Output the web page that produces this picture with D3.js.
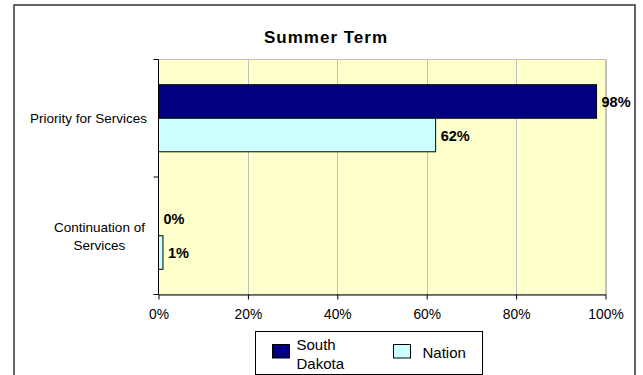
<!DOCTYPE html>
<html><head><meta charset="utf-8">
<script src="https://cdn.jsdelivr.net/npm/d3@7"></script>
<style>body{margin:0;background:#fff;}svg{display:block;font-family:"Liberation Sans",Arial,sans-serif;}</style>
</head><body>
<svg id="c" width="643" height="375"></svg>
<script>
const categories = ["Priority for Services", "Continuation of Services"];
const categoryLines = [["Priority for Services"], ["Continuation of", "Services"]];
const seriesNames = ["South Dakota", "Nation"];
const southDakota = [98, 0];
const nation = [62, 1];
const xTicks = [0, 20, 40, 60, 80, 100];
const title = "Summer Term";

const colors = ["#000080", "#CCFFFF"];
const svg = d3.select("#c");

// outer frame
svg.append("rect").attr("x", 14).attr("y", 5).attr("width", 621).attr("height", 380)
  .attr("fill", "#fff").attr("stroke", "#333").attr("stroke-width", 1.5);

const m = {l: 158.5, r: 605.5, t: 59.5, b: 294.5};
const x = d3.scaleLinear().domain([0, 100]).range([m.l, m.r]);
const y0 = d3.scaleBand().domain(categories).range([m.t, m.b]).paddingInner(0).paddingOuter(0);
const y1 = d3.scaleBand().domain(seriesNames).range([0, y0.bandwidth()]).paddingInner(0).paddingOuter(0.752);

// plot background
svg.append("rect").attr("x", m.l).attr("y", m.t).attr("width", m.r - m.l).attr("height", m.b - m.t)
  .attr("fill", "#FFFFCC").attr("stroke", "#c0c0c0").attr("stroke-width", 1);

// gridlines
svg.append("g").selectAll("line").data(xTicks.slice(1)).join("line")
  .attr("x1", d => Math.round(x(d)) + 0.5).attr("x2", d => Math.round(x(d)) + 0.5)
  .attr("y1", m.t).attr("y2", m.b).attr("stroke", "#c0c0c0").attr("stroke-width", 1);

// title
svg.append("text").attr("x", 326).attr("y", 42.5).attr("text-anchor", "middle")
  .attr("font-size", 17).attr("letter-spacing", 1).attr("font-weight", "bold").text(title);

// bars
const data = categories.map((c, i) => ({c, vals: [southDakota[i], nation[i]]}));
const g = svg.append("g");
data.forEach((d, i) => {
  d.vals.forEach((v, j) => {
    const yy = y0(d.c) + y1(seriesNames[j]);
    if (v > 0) {
      g.append("rect").attr("x", x(0)).attr("y", yy).attr("width", x(v) - x(0)).attr("height", y1.bandwidth())
        .attr("fill", colors[j]).attr("stroke", "#000").attr("stroke-width", 1);
    }
    g.append("text").attr("x", x(v) + 5).attr("y", yy + y1.bandwidth() / 2 + 5.5)
      .attr("font-size", 14.5).attr("font-weight", "bold")
      .attr("fill", "#000").text(v + "%");
  });
});

// x axis
const xAxis = d3.axisBottom(x).tickValues(xTicks).tickFormat(d => d + "%").tickSize(5).tickSizeOuter(0);
const xg = svg.append("g").attr("transform", `translate(0,${m.b})`).call(xAxis);
xg.select(".domain").attr("stroke", "#000");
xg.selectAll(".tick line").attr("stroke", "#000");
xg.selectAll("text").attr("font-size", 13.8).attr("font-family", "Liberation Sans, Arial, sans-serif")
  .attr("y", 24.5).attr("dy", null).attr("fill", "#000");

// y axis
const yTicksPos = [m.t, m.t + y0.bandwidth(), m.b];
svg.append("line").attr("x1", m.l).attr("x2", m.l).attr("y1", m.t).attr("y2", m.b).attr("stroke", "#000");
svg.append("g").selectAll("line").data(yTicksPos).join("line")
  .attr("x1", m.l - 5).attr("x2", m.l).attr("y1", d => d).attr("y2", d => d).attr("stroke", "#000");

// category labels
categories.forEach((c, i) => {
  const lines = categoryLines[i];
  const cy = y0(c) + y0.bandwidth() / 2;
  const lh = 18;
  const t = svg.append("text").attr("font-size", 13.5).attr("fill", "#000").attr("text-anchor", "middle");
  const cx = lines.length > 1 ? 99.5 : 88.5;
  lines.forEach((ln, k) => {
    t.append("tspan").attr("x", cx).attr("y", cy + (k - (lines.length - 1) / 2) * lh + 5).text(ln);
  });
});

// legend
const lg = svg.append("g");
lg.append("rect").attr("x", 255.5).attr("y", 331.5).attr("width", 227).attr("height", 43)
  .attr("fill", "#fff").attr("stroke", "#000");
const legendItems = [
  {name: ["South", "Dakota"], sx: 272, tx: 296.5, color: colors[0]},
  {name: ["Nation"], sx: 393, tx: 422.5, color: colors[1]}
];
legendItems.forEach(it => {
  lg.append("rect").attr("x", it.sx + 0.5).attr("y", 344.5).attr("width", 17).attr("height", 13.5)
    .attr("fill", it.color).attr("stroke", "#000");
  const t = lg.append("text").attr("font-size", 15).attr("fill", "#000");
  it.name.forEach((ln, k) => {
    t.append("tspan").attr("x", it.tx).attr("y", (it.name.length > 1 ? 350 : 358) + k * 19.3).text(ln);
  });
});
</script>
</body></html>
